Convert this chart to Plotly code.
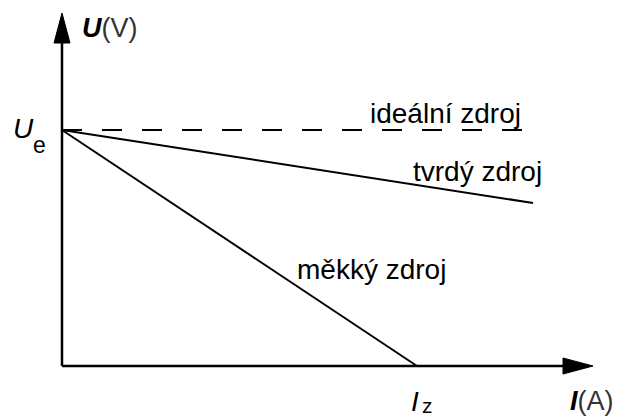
import plotly.graph_objects as go

# Data (pixel-scaled units: origin at axes crossing)
Ue = 236
Iz = 355
ideal_I = [0, 463]
ideal_U = [Ue, Ue]
hard_I = [0, 471]
hard_U = [Ue, 163]
soft_I = [0, Iz]
soft_U = [Ue, 0]

x_axis_end = 531
y_axis_end = 353

FONT = "Liberation Sans"

fig = go.Figure()
fig.add_trace(go.Scatter(x=ideal_I, y=ideal_U, mode="lines",
                         line=dict(color="black", width=2, dash="20px,20px"), hoverinfo="skip"))
fig.add_trace(go.Scatter(x=hard_I, y=hard_U, mode="lines",
                         line=dict(color="black", width=2), hoverinfo="skip"))
fig.add_trace(go.Scatter(x=soft_I, y=soft_U, mode="lines",
                         line=dict(color="black", width=2), hoverinfo="skip"))

shapes = []
# axes lines
shapes.append(dict(type="line", x0=0, y0=0, x1=x_axis_end - 28, y1=0, line=dict(color="black", width=2.5)))
shapes.append(dict(type="line", x0=0, y0=0, x1=0, y1=y_axis_end - 28, line=dict(color="black", width=2.5)))
# arrowheads
shapes.append(dict(type="path",
                   path=f"M {x_axis_end} 0 L {x_axis_end-30} 8 L {x_axis_end-30} -8 Z",
                   fillcolor="black", line=dict(color="black", width=1)))
shapes.append(dict(type="path",
                   path=f"M 0 {y_axis_end} L -8 {y_axis_end-30} L 8 {y_axis_end-30} Z",
                   fillcolor="black", line=dict(color="black", width=1)))

def ann(x, y, text, size, **kw):
    d = dict(x=x, y=y, text=text, showarrow=False, xanchor="left", yanchor="middle",
             font=dict(family=FONT, size=size, color="black"), borderpad=0, borderwidth=0)
    d.update(kw)
    return d

annotations = [
    ann(308, 253, "ideální zdroj", 28),
    ann(351, 195, "tvrdý zdroj", 28),
    ann(235, 97, "měkký zdroj", 28),
    ann(20, 338, "<b><i>U</i></b><span style='color:#333'>(V)</span>", 27),
    ann(-49, 238, "<i>U</i>", 28),
    ann(-29, 221, "e", 23),
    ann(349, -51, "<i>I</i>", 28, yanchor="bottom"),
    ann(360, -51, "z", 21, yanchor="bottom"),
    ann(508, -35, "<b><i>I</i></b><span style='color:#333'>(A)</span>", 27),
]

fig.update_layout(
    width=617, height=418,
    margin=dict(l=0, r=0, t=0, b=0),
    paper_bgcolor="white", plot_bgcolor="white",
    showlegend=False,
    xaxis=dict(range=[-62, 555], visible=False, fixedrange=True),
    yaxis=dict(range=[-52, 366], visible=False, fixedrange=True),
    shapes=shapes, annotations=annotations,
)

fig.write_html("out.html", config={"displayModeBar": False},
               post_script="document.body.style.margin='0px';document.body.style.overflow='hidden';")
